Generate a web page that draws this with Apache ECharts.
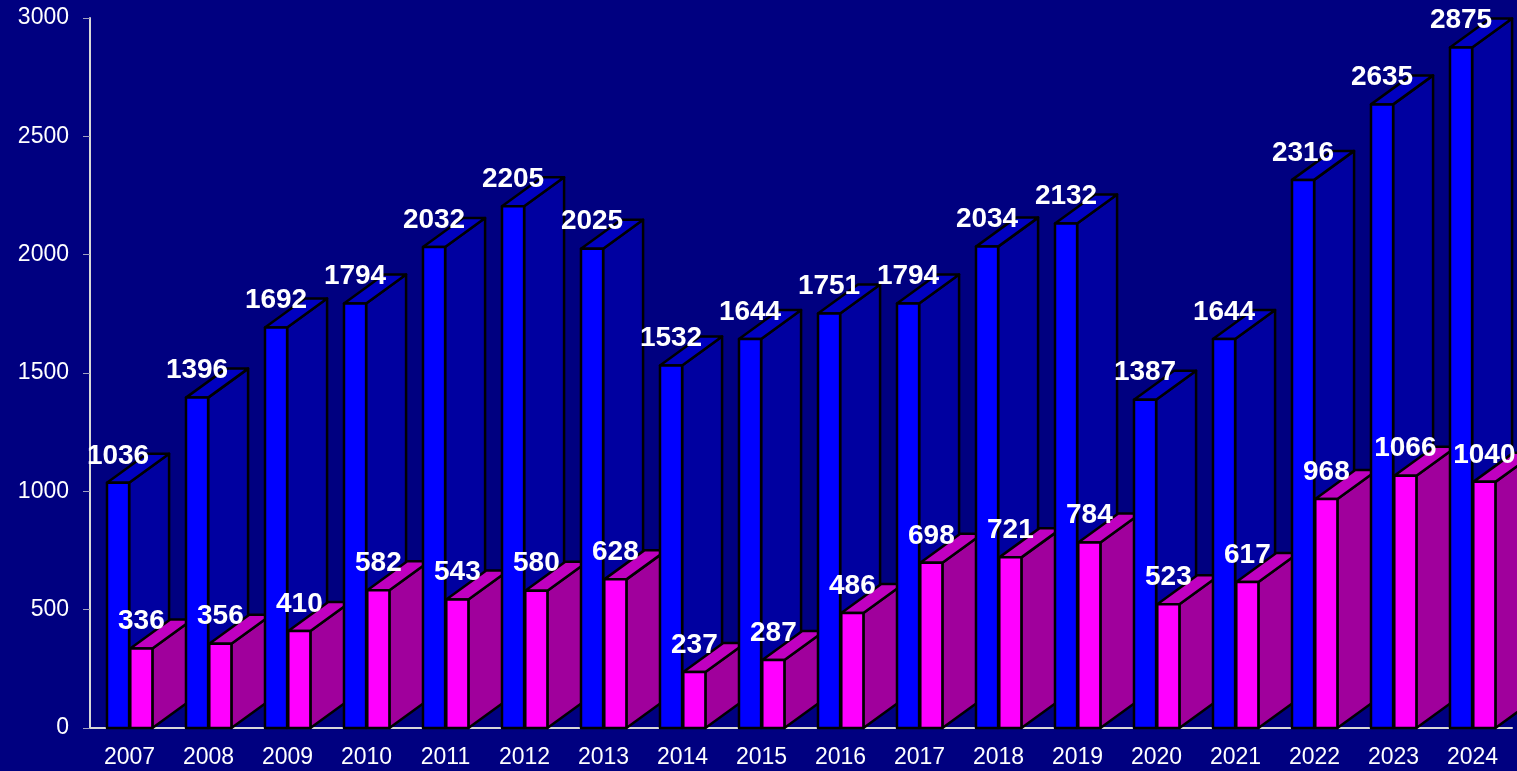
<!DOCTYPE html>
<html>
<head>
<meta charset="utf-8">
<script src="https://cdn.jsdelivr.net/npm/echarts@6/dist/echarts.min.js"></script>
<style>
html, body { margin: 0; padding: 0; background: #000080; }
#chart { width: 1517px; height: 771px; }
</style>
</head>
<body>
<div id="chart"></div>
<script>
// 年份
var years = ['2007', '2008', '2009', '2010', '2011', '2012', '2013', '2014', '2015',
             '2016', '2017', '2018', '2019', '2020', '2021', '2022', '2023', '2024'];
// 蓝色柱
var blueValues = [1036, 1396, 1692, 1794, 2032, 2205, 2025, 1532, 1644,
                  1751, 1794, 2034, 2132, 1387, 1644, 2316, 2635, 2875];
// 粉色柱
var pinkValues = [336, 356, 410, 582, 543, 580, 628, 237, 287,
                  486, 698, 721, 784, 523, 617, 968, 1066, 1040];

var data = [];
for (var i = 0; i < years.length; i++) {
    data.push([i, blueValues[i], pinkValues[i]]);
}

// 一根立体柱子：侧面、顶面、正面、数值
function box(children, x0, w, yb, yt, dx, dy, colors, value) {
    var x1 = x0 + w;
    var line = { stroke: '#000', lineWidth: 2.5, lineJoin: 'round' };
    children.push({
        type: 'polygon',
        shape: { points: [[x1, yb], [x1 + dx, yb + dy], [x1 + dx, yt + dy], [x1, yt]] },
        style: Object.assign({ fill: colors[1] }, line)
    });
    children.push({
        type: 'polygon',
        shape: { points: [[x0, yt], [x0 + dx, yt + dy], [x1 + dx, yt + dy], [x1, yt]] },
        style: Object.assign({ fill: colors[2] }, line)
    });
    children.push({
        type: 'rect',
        shape: { x: x0, y: yt, width: w, height: yb - yt },
        style: Object.assign({ fill: colors[0] }, line)
    });
    children.push({
        type: 'text',
        z2: 100,
        style: {
            x: x0 + w / 2,
            y: yt - 27,
            text: String(value),
            align: 'center',
            verticalAlign: 'middle',
            fill: '#fff',
            font: 'bold 28px Arial, "Liberation Sans", sans-serif'
        }
    });
}

function renderItem(params, api) {
    var idx = api.value(0);
    var band = api.size([1, 0])[0];
    var base = api.coord([idx, 0]);
    var left = base[0] - band / 2;
    var w = band * 0.28;
    var dx = band * 0.506;
    var dy = -29;
    var children = [];
    box(children, left + band * 0.215, w, base[1], api.coord([idx, api.value(1)])[1],
        dx, dy, ['#0000ff', '#0000a0', '#0000c0'], api.value(1));
    box(children, left + band * 0.51, w, base[1], api.coord([idx, api.value(2)])[1],
        dx, dy, ['#ff00ff', '#a0009c', '#c000c0'], api.value(2));
    return { type: 'group', children: children };
}

var myChart = echarts.init(document.getElementById('chart'));
var option = {
    backgroundColor: '#000080',
    animation: false,
    grid: { left: 90, right: 5, top: 18, bottom: 43 },
    xAxis: {
        type: 'category',
        data: years,
        axisLine: { lineStyle: { color: '#d8d8d8', width: 2 } },
        axisTick: { length: 7, lineStyle: { color: '#d8d8d8', width: 1 } },
        axisLabel: { color: '#fff', fontSize: 23, fontFamily: 'Arial, "Liberation Sans"', margin: 18 }
    },
    yAxis: {
        type: 'value',
        min: 0,
        max: 3000,
        interval: 500,
        splitLine: { show: false },
        axisLine: { show: true, lineStyle: { color: '#d8d8d8', width: 2 } },
        axisTick: { show: true, length: 7, lineStyle: { color: '#a0a0c0', width: 1 } },
        axisLabel: {
            color: '#fff', fontSize: 23, fontFamily: 'Arial, "Liberation Sans"', margin: 21,
            formatter: function (v) { return String(v); }
        }
    },
    series: [{
        type: 'custom',
        renderItem: renderItem,
        encode: { x: 0, y: [1, 2] },
        data: data
    }]
};
myChart.setOption(option);
</script>
</body>
</html>
